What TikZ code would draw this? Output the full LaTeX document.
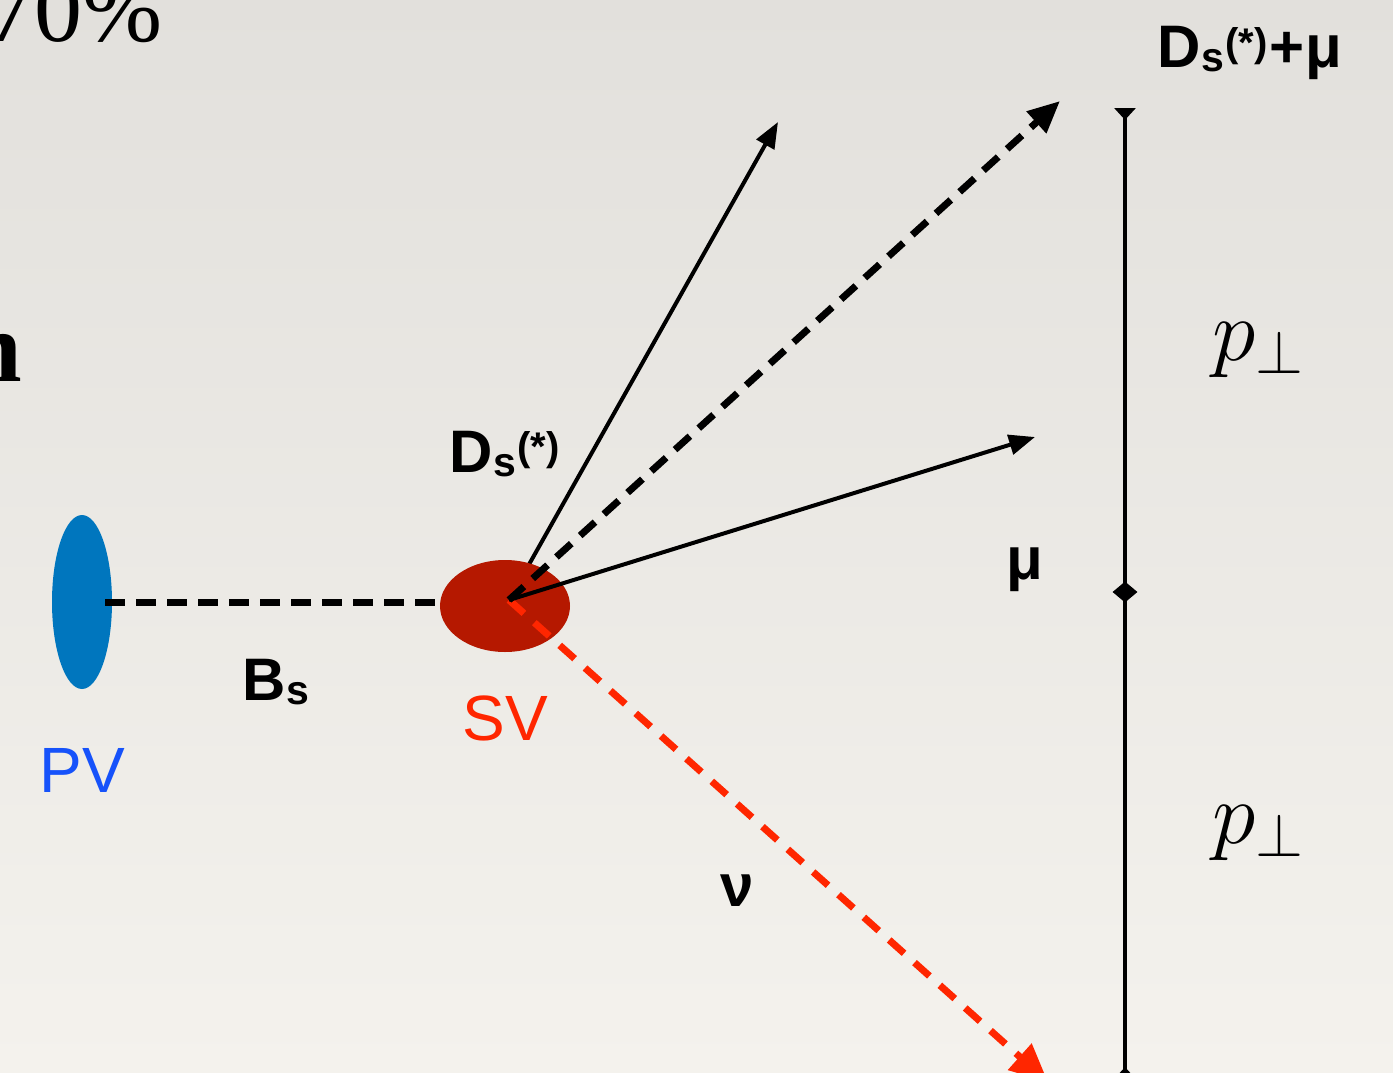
\documentclass[tikz,border=0pt]{standalone}
\usepackage{fix-cm}
\usepackage{fontspec}
\setmainfont{Liberation Sans}
\newfontfamily\serifface{Liberation Serif}
\usetikzlibrary{arrows.meta,shapes.geometric}
\definecolor{bgtop}{RGB}{226,224,220}
\definecolor{bgbot}{RGB}{244,242,237}
\definecolor{pvblue}{RGB}{0,118,190}
\definecolor{pvtext}{RGB}{22,82,250}
\definecolor{svred}{RGB}{181,24,0}
\definecolor{brightred}{RGB}{255,38,0}
\newcommand{\bigfont}{\fontsize{60}{66}\selectfont}
\newcommand{\subfnt}{\fontsize{41}{41}\selectfont}
\newcommand{\supfnt}{\fontsize{40}{40}\selectfont}
\newcommand{\Dsstar}{D{\subfnt\kern1pt\raisebox{-4pt}{s}}{\supfnt\kern1pt\raisebox{12pt}{(*)}}}
\begin{document}
\begin{tikzpicture}[x=1pt,y=-1pt,
  lbl/.style={font=\bigfont\bfseries, inner sep=0pt},
  vtx/.style={font=\fontsize{64}{70}\selectfont, inner sep=0pt},
  perp/.style={font=\fontsize{88}{88}\selectfont, inner sep=0pt, anchor=base west},
  solidarrow/.style={line width=4pt, -{Triangle[length=26pt,width=20pt]}},
  blackdash/.style={line width=7pt, dash pattern=on 20pt off 12pt, -{Triangle[length=32pt,width=28pt]}},
  reddash/.style={line width=7pt, brightred, dash pattern=on 20pt off 14pt, -{Triangle[length=38pt,width=34pt]}},
]
\useasboundingbox (0,0) rectangle (1393,1073);
\clip (0,0) rectangle (1393,1073);
\shade[top color=bgtop, bottom color=bgbot] (0,0) rectangle (1393,1073);

% partial texts at the left edge
\node[font=\serifface\fontsize{96}{96}\selectfont, inner sep=0pt, anchor=base east] (pct) at (163,42) {70\%};
\node[font=\serifface\bfseries\fontsize{100}{100}\selectfont, inner sep=0pt, anchor=base east] (nfrag) at (22,381) {n};

% vertices
\node[ellipse, fill=pvblue, minimum width=60pt, minimum height=174pt, inner sep=0pt] (pv) at (82,602) {};
\coordinate (svc) at (509,600);
\coordinate (dstip) at (778,122);
\draw[solidarrow] (svc) -- (dstip);
\node[ellipse, fill=svred, minimum width=130pt, minimum height=92pt, inner sep=0pt] (sv) at (505,606) {};

% Bs line
\coordinate (bsstart) at (105,602);
\coordinate (bsend) at (440,602);
\draw[line width=7pt, dash pattern=on 20pt off 11pt] (bsstart) -- (bsend);

% decay products
\coordinate (dsmutip) at (1060,101);
\coordinate (mutip) at (1035,437);
\coordinate (nutip) at (1048,1082);
\draw[reddash] (svc) -- (nutip);
\draw[blackdash] (svc) -- (dsmutip);
\draw[solidarrow] (svc) -- (mutip);

% labels
\node[vtx, text=pvtext, anchor=base] (pvlbl) at (82,792) {PV};
\node[vtx, text=brightred, anchor=base] (svlbl) at (505,740) {SV};
\node[lbl, anchor=base west] (bslbl) at (242,700) {B{\subfnt\kern1pt\raisebox{-4pt}{s}}};
\node[lbl, anchor=base west] (dslbl) at (449,472) {\Dsstar};
\node[lbl, anchor=base] (mulbl) at (1025,579) {μ};
\node[lbl, anchor=base] (nulbl) at (737,906) {ν};
\node[lbl, anchor=base west] (dsmulbl) at (1157,68) {\Dsstar\kern2pt+\kern1pt μ};

% transverse momentum bar
\coordinate (bartop) at (1125,108);
\coordinate (barbot) at (1125,1079);
\node[diamond, fill=black, minimum width=25pt, minimum height=21pt, inner sep=0pt] (barmid) at (1125,592) {};
\draw[line width=4.5pt, {Triangle[reversed,length=12pt,width=21pt]}-{Triangle[reversed,length=12pt,width=21pt]}] (bartop) -- (barbot);

\node[perp] (p1) at (1212,360) {$p_\perp$};
\node[perp] (p2) at (1212,843) {$p_\perp$};
\end{tikzpicture}
\end{document}
